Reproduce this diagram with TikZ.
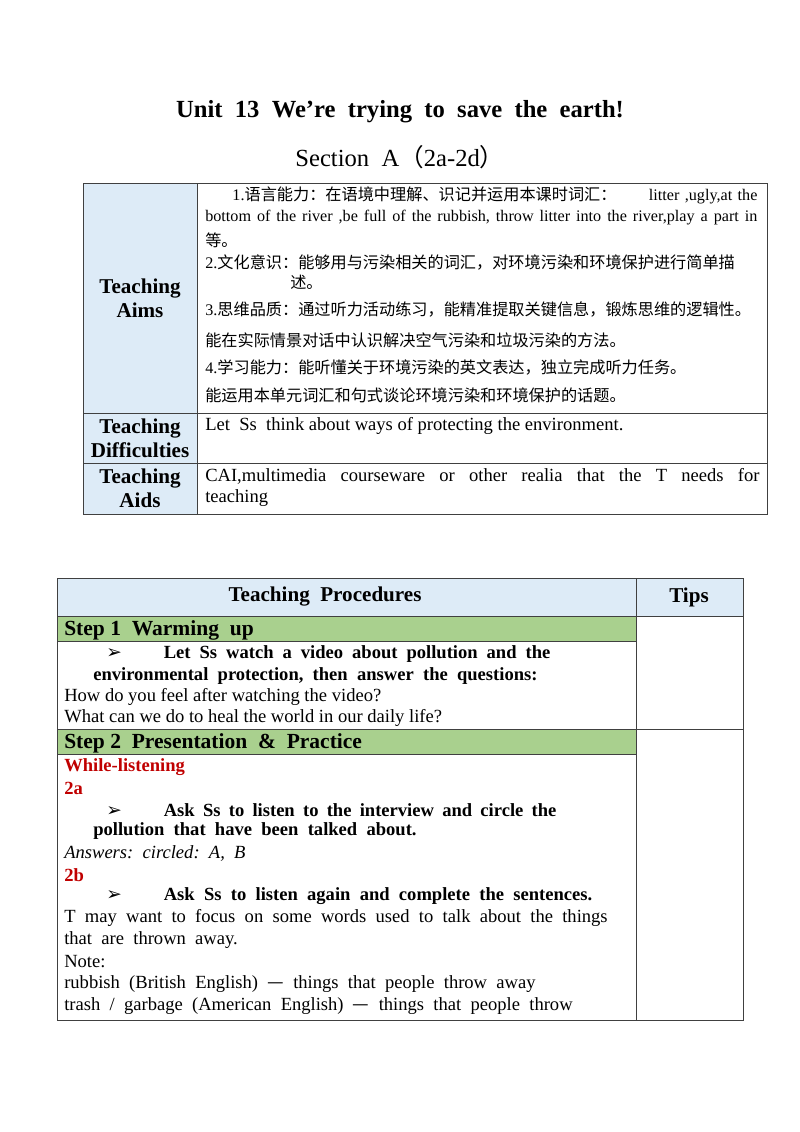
\documentclass[tikz,border=0pt]{standalone}
\usepackage{fontspec}
\setmainfont{Liberation Serif}
\newfontfamily\cjk{Noto Sans CJK SC}
\newfontfamily\symb{DejaVu Sans}
\definecolor{headblue}{HTML}{DDEBF7}
\definecolor{stepgreen}{HTML}{A9D08E}
\definecolor{redtxt}{HTML}{C00000}
\newcommand{\arw}{{\symb ➢}\hspace{1.05cm}}
\begin{document}
\begin{tikzpicture}[x=0.025cm,y=-0.025cm,
		every node/.style={inner sep=0pt, font=\fontsize{11.5}{13}\selectfont},
		txt/.style={anchor=west},
		body/.style={anchor=west, font=\fontsize{13.2}{15}\selectfont},
		head/.style={font=\fontsize{15}{17}\selectfont\bfseries, align=center},
		grid/.style={draw=black!75, line width=0.6pt}
		]
		\useasboundingbox (0,0) rectangle (800,1132);
		% Title
		\node[font=\fontsize{17.5}{20}\selectfont\bfseries] (title) at (400,112) {Unit\ \ 13\ \ We’re\ \ trying\ \ to\ \ save\ \ the\ \ earth!};
		\node[font=\fontsize{17.5}{20}\selectfont] (section) at (400,157) {Section\ \ A{\cjk （}2a-2d{\cjk ）}};
		
		% Table 1
		\fill[headblue] (83,183) rectangle (197,514);
		\draw[grid] (83,183) rectangle (767,514);
		\draw[grid] (197,183) -- (197,514);
		\draw[grid] (83,413) -- (767,413);
		\draw[grid] (83,463) -- (767,463);
		\node[head] (aims) at (140,298) {Teaching\\Aims};
		\node[head] (diff) at (140,438) {Teaching\\Difficulties};
		\node[head] (aids) at (140,488) {Teaching\\Aids};
		\node[txt, text width=13.8cm] (a1) at (205,195) {\hspace*{0.68cm}1.{\cjk 语言能力：在语境中理解、识记并运用本课时词汇：}\hfill litter ,ugly,at the};
		\node[txt, text width=13.8cm] (a2) at (205,218) {bottom\hfill of\hfill the\hfill river\hfill ,be\hfill full\hfill of\hfill the\hfill rubbish,\hfill throw\hfill litter\hfill into\hfill the\hfill river,play\hfill a\hfill part\hfill in};
		\node[txt] (a3) at (205,240) {\cjk 等。};
		\node[txt] (a4) at (205,262) {2.{\cjk 文化意识：能够用与污染相关的词汇，对环境污染和环境保护进行简单描}};
		\node[txt] (a5) at (290,282) {\cjk 述。};
		\node[txt] (a6) at (205,309) {3.{\cjk 思维品质：通过听力活动练习，能精准提取关键信息，锻炼思维的逻辑性。}};
		\node[txt] (a7) at (205,340) {\cjk 能在实际情景对话中认识解决空气污染和垃圾污染的方法。};
		\node[txt] (a8) at (205,367) {4.{\cjk 学习能力：能听懂关于环境污染的英文表达，独立完成听力任务。}};
		\node[txt] (a9) at (205,395) {\cjk 能运用本单元词汇和句式谈论环境污染和环境保护的话题。};
		\node[body] (d1) at (205,426) {Let\ \ Ss\ \ think about ways of protecting the environment.};
		\node[body, text width=13.85cm] (c1) at (205,476) {CAI,multimedia\hfill courseware\hfill or\hfill other\hfill realia\hfill that\hfill the\hfill T\hfill needs\hfill for};
		\node[body] (c2) at (205,498) {teaching};
		
		% Table 2
		\fill[headblue] (57,578) rectangle (743,616);
		\fill[stepgreen] (57,616) rectangle (636,641);
		\fill[stepgreen] (57,729) rectangle (636,754);
		\draw[grid] (57,578) rectangle (743,1020);
		\draw[grid] (636,578) -- (636,1020);
		\draw[grid] (57,616) -- (743,616);
		\draw[grid] (57,641) -- (636,641);
		\draw[grid] (57,729) -- (743,729);
		\draw[grid] (57,754) -- (636,754);
		\node[head] (proc) at (325,597) {Teaching\ \ Procedures};
		\node[head] (tips) at (689,597) {Tips};
		\node[txt, font=\fontsize{15.3}{17}\selectfont\bfseries] (s1) at (64,630) {Step 1\ \ Warming\ \ up};
		\node[body, font=\fontsize{13.2}{15}\selectfont\bfseries, text width=11.1cm] (s1a) at (106,654) {\arw Let\hfill Ss\hfill watch\hfill a\hfill video\hfill about\hfill pollution\hfill and\hfill the};
		\node[body, font=\fontsize{13.2}{15}\selectfont\bfseries] (s1b) at (93,676) {environmental\ \ protection,\ \ then\ \ answer\ \ the\ \ questions:};
		\node[body] (s1c) at (64,697) {How do you feel after watching the video?};
		\node[body] (s1d) at (64,718) {What can we do to heal the world in our daily life?};
		\node[txt, font=\fontsize{15.3}{17}\selectfont\bfseries] (s2) at (64,743) {Step 2\ \ Presentation\ \ \&\ \ Practice};
		\node[body, font=\fontsize{13.2}{15}\selectfont\bfseries, text=redtxt] (wl) at (64,767) {While-listening};
		\node[body, font=\fontsize{13.2}{15}\selectfont\bfseries, text=redtxt] (t2a) at (64,788) {2a};
		\node[body, font=\fontsize{13.2}{15}\selectfont\bfseries, text width=11.25cm] (q1) at (106,810) {\arw Ask\hfill Ss\hfill to\hfill listen\hfill to\hfill the\hfill interview\hfill and\hfill circle\hfill the};
		\node[body, font=\fontsize{13.2}{15}\selectfont\bfseries] (q2) at (93,831) {pollution\ \ that\ \ have\ \ been\ \ talked\ \ about.};
		\node[body, font=\fontsize{13.2}{15}\selectfont\itshape] (ans) at (64,853) {Answers:\ \ circled:\ \ A,\ \ B};
		\node[body, font=\fontsize{13.2}{15}\selectfont\bfseries, text=redtxt] (t2b) at (64,875) {2b};
		\node[body, font=\fontsize{13.2}{15}\selectfont\bfseries] (q3) at (106,896) {\arw Ask\ \ Ss\ \ to\ \ listen\ \ again\ \ and\ \ complete\ \ the\ \ sentences.};
		\node[body] (n1) at (64,918) {T\ \ may\ \ want\ \ to\ \ focus\ \ on\ \ some\ \ words\ \ used\ \ to\ \ talk\ \ about\ \ the\ \ things};
		\node[body] (n2) at (64,940) {that\ \ are\ \ thrown\ \ away.};
		\node[body] (n3) at (64,962) {Note:};
		\node[body] (n4) at (64,984) {rubbish\ \ (British\ \ English)\ \ {\cjk —}\ \ things\ \ that\ \ people\ \ throw\ \ away};
		\node[body] (n5) at (64,1006) {trash\ \ /\ \ garbage\ \ (American\ \ English)\ \ {\cjk —}\ \ things\ \ that\ \ people\ \ throw};
	\end{tikzpicture}
\end{document}
